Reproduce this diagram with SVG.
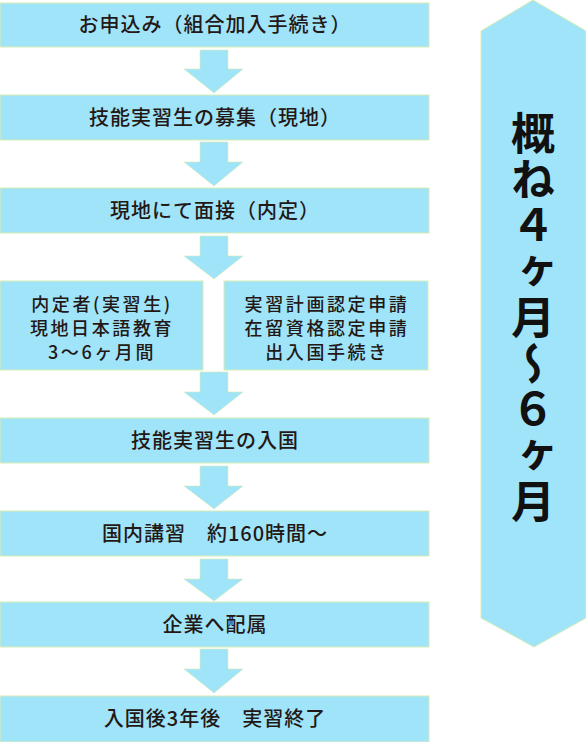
<svg xmlns="http://www.w3.org/2000/svg" width="586" height="742" viewBox="0 0 586 742">
<style>
.box{fill:#a0e4fa;stroke:#d6ecb4;stroke-width:1}
.arr{fill:#a0e4fa;stroke:#d6ecb4;stroke-width:0.6}
.t{font-family:"Noto Sans CJK JP","Noto Sans",sans-serif;font-size:20px;font-weight:500;fill:#231815;text-anchor:middle;letter-spacing:1px}
.s{font-family:"Noto Sans CJK JP","Noto Sans",sans-serif;font-size:18px;font-weight:500;fill:#231815;text-anchor:middle;letter-spacing:2.6px}
.big{font-family:"Noto Sans CJK JP",sans-serif;font-size:44px;font-weight:bold;fill:#111;letter-spacing:2px}
</style>
<rect width="586" height="742" fill="#fff"/>
<g id="connectors">
<polygon class="arr" points="200,50 228,50 228,69 243,69 214,93 184,69 200,69"/>
<polygon class="arr" points="200,142 228,142 228,162 243,162 214,186 184,162 200,162"/>
<polygon class="arr" points="200,236 228,236 228,256 243,256 214,279 184,256 200,256"/>
<polygon class="arr" points="200,372 228,372 228,392 243,392 214,415 184,392 200,392"/>
<polygon class="arr" points="200,466 228,466 228,486 243,486 214,509 184,486 200,486"/>
<polygon class="arr" points="200,559 228,559 228,579 243,579 214,601 184,579 200,579"/>
<polygon class="arr" points="200,649 228,649 228,669 243,669 214,693 184,669 200,669"/>
</g>
<g id="n1"><rect class="box" x="0" y="3" width="429" height="44"/><text class="t" x="215" y="32">お申込み（組合加入手続き）</text></g>
<g id="n2"><rect class="box" x="0" y="95" width="429" height="45"/><text class="t" x="215" y="125">技能実習生の募集（現地）</text></g>
<g id="n3"><rect class="box" x="0" y="188" width="429" height="45"/><text class="t" x="215" y="218">現地にて面接（内定）</text></g>
<g id="n4a"><rect class="box" x="0" y="281" width="203" height="89"/>
<text class="s" x="102" y="311">内定者(実習生)</text>
<text class="s" x="102" y="335">現地日本語教育</text>
<text class="s" x="102" y="359">3～6ヶ月間</text></g>
<g id="n4b"><rect class="box" x="224" y="281" width="204" height="89"/>
<text class="s" x="327" y="311">実習計画認定申請</text>
<text class="s" x="327" y="335">在留資格認定申請</text>
<text class="s" x="327" y="359">出入国手続き</text></g>
<g id="n5"><rect class="box" x="0" y="418" width="429" height="45"/><text class="t" x="215" y="448">技能実習生の入国</text></g>
<g id="n6"><rect class="box" x="0" y="511" width="429" height="45"/><text class="t" x="215" y="541">国内講習　約160時間～</text></g>
<g id="n7"><rect class="box" x="0" y="602" width="429" height="45"/><text class="t" x="215" y="632">企業へ配属</text></g>
<g id="n8"><rect class="box" x="0" y="696" width="429" height="46"/><text class="t" x="215" y="726">入国後3年後　実習終了</text></g>
<g id="period"><polygon class="box" points="481,31 533,0 586,31 586,618 534,647 481,618"/>
<text class="big" x="533" y="111" writing-mode="vertical-rl">概ね４ヶ月〜６ヶ月</text></g>
</svg>
